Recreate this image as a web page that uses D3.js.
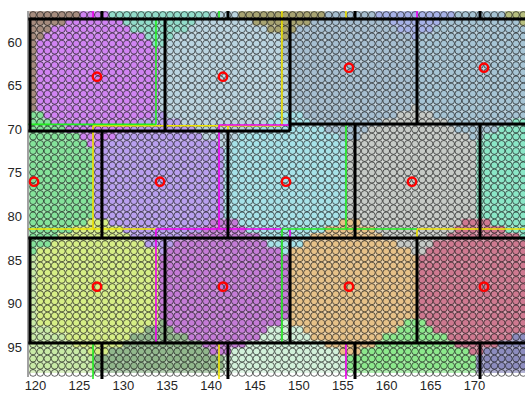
<!DOCTYPE html>
<html><head><meta charset="utf-8">
<script src="https://cdn.jsdelivr.net/npm/d3@7"></script>
<style>body{margin:0;background:#fff;} svg{display:block;font-family:"Liberation Sans",Arial,Helvetica,sans-serif;}</style>
</head><body>
<svg id="chart" width="525" height="397"></svg>
<script>
// ---------- data ----------
const xTicks = [120,125,130,135,140,145,150,155,160,165,170];
const yTicks = [60,65,70,75,80,85,90,95];

// red cluster centres
const centerX = [127.0,141.35,155.7,171.08, 119.83,134.18,148.53,162.88, 127.0,141.35,155.7,171.08];
const centerY = [63.98,63.98,62.95,62.95, 76.02,76.02,76.02,76.02, 88.06,88.06,88.06,88.06];
const centerColor = ["#d083f2","#bad4e0","#a6bed0","#a6c4d4",
                     "#84e29a","#b89fee","#a6e2e8","#c6cac6",
                     "#d6ee86","#c47bd6","#e6c188","#ce7990"];
// neighbouring clusters whose centres lie outside the view
const outerX = [120.0,134.2,148.5,162.9,177.2, 177.2, 120.0,134.2,148.5,162.9,177.2, 112.7,112.7,185.5,185.5];
const outerY = [51.5,52.5,51.5,51.5,51.5, 76.02, 100.1,100.1,100.1,100.1,100.1, 64.0,88.06,62.95,88.06];
const outerColor = ["#a68c7e","#92dcca","#a8a472","#a7b2e8","#b6be7e", "#8ae6c6",
                    "#c8eaa6","#91b78c","#d2f1da","#8ce88c","#8c8cbe", "#a68c7e","#c8eaa6","#a6c4d4","#8c8cbe"];

// sampling lattice of the scatter points
const gridX0 = 119.72, gridY0 = 56.9, gridStep = 0.821, gridCols = 70, gridRows = 51;

// black tile outlines: horizontal [y, x0, x1], vertical [x, y0, y1]
const blackH = [[57.36,119.15,176.5],[70.21,119.15,148.99],[69.40,148.99,176.5],[82.48,119.15,176.5],[94.52,119.15,176.5]];
const blackV = [
 [119.37,57.36,70.21],[119.37,82.48,94.52],
 [134.75,57.36,70.21],[134.75,82.48,94.52],
 [148.99,57.36,70.21],[148.99,82.48,94.52],
 [163.45,57.36,69.40],[163.45,82.48,94.52],
 [127.57,56.3,57.36],[127.57,70.21,82.48],[127.57,94.52,99],
 [141.92,56.3,57.36],[141.92,70.21,82.48],[141.92,94.52,99],
 [156.39,56.3,57.36],[156.39,69.40,82.48],[156.39,94.52,99],
 [170.63,56.3,57.36],[170.63,69.40,82.48],[170.63,94.52,99]
];
// coloured outlines [x0,y0,x1,y1]
const yellowSeg = [[148.07,56.3,148.07,69.6],[126.55,69.6,148.07,69.6],[126.55,69.6,126.55,81.44],
  [119.15,81.44,133.72,81.44],[141.92,69.6,141.92,82.48],[155.36,56.3,155.36,57.36],
  [163.45,81.44,176.5,81.44],[163.45,81.44,163.45,82.48],[140.9,94.52,140.9,99]];
const magentaSeg = [[126.55,56.3,126.55,57.36],[140.9,69.52,148.99,69.52],[140.9,69.52,140.9,81.44],
  [133.72,81.44,148.07,81.44],[133.72,81.44,133.72,94.52],[163.45,56.3,163.45,57.36],
  [155.36,94.52,155.36,99],[148.99,81.44,148.99,82.48]];
const greenSeg = [[133.72,57.36,133.72,69.45],[119.15,69.45,133.72,69.45],[140.9,56.3,140.9,57.36],
  [148.07,81.44,163.45,81.44],[148.07,81.44,148.07,94.52],[155.36,69.52,155.36,81.44],[126.55,94.52,126.55,99]];

// ---------- drawing ----------
const svg = d3.select("#chart");
const x = d3.scaleLinear().domain([120,170]).range([35.5,474.5]);
const y = d3.scaleLinear().domain([60,95]).range([42,347.2]);
const plotL = 28, plotR = 525, plotT = 11, plotB = 379;

svg.append("defs").append("clipPath").attr("id","clip")
  .append("rect").attr("x",plotL).attr("y",plotT).attr("width",plotR-plotL).attr("height",plotB-plotT);

const seeds = [];
centerX.forEach((v,i)=>seeds.push({x:v,y:centerY[i],c:centerColor[i]}));
outerX.forEach((v,i)=>seeds.push({x:v,y:outerY[i],c:outerColor[i]}));
const del = d3.Delaunay.from(seeds, d=>x(d.x), d=>y(d.y));

const pts = [];
d3.range(gridRows).forEach(r=>{
  d3.range(gridCols).forEach(c=>{
    const gx = gridX0 + c*gridStep, gy = gridY0 + r*gridStep;
    const s = seeds[del.find(x(gx), y(gy))];
    pts.push({gx, gy, r, c:s.c});
  });
});

const g = svg.append("g").attr("clip-path","url(#clip)");
const wx = x(gridStep)-x(0), wy = y(gridStep)-y(0);
g.append("g").selectAll("rect").data(pts).join("rect")
  .attr("x", d=>x(d.gx)-wx/2-0.3).attr("y", d=>y(d.gy)-wy/2-0.3)
  .attr("width", wx+0.6).attr("height", d=> d.r===gridRows-1 ? wy/2+0.3 : wy+0.6)
  .attr("fill", d=>d3.interpolateRgb(d.c,"#ffffff")(0.3));
g.append("g").selectAll("circle").data(pts).join("circle")
  .attr("cx", d=>x(d.gx)).attr("cy", d=>y(d.gy)).attr("r",3.4)
  .attr("fill", d=> d.r===gridRows-1 ? "none" : d.c)
  .attr("stroke","#111").attr("stroke-opacity",0.7).attr("stroke-width",0.9);

function segs(data,color,w){
  g.append("g").selectAll("line").data(data).join("line")
   .attr("x1",d=>x(d[0])).attr("y1",d=>y(d[1])).attr("x2",d=>x(d[2])).attr("y2",d=>y(d[3]))
   .attr("stroke",color).attr("stroke-width",w);
}
segs(yellowSeg,"#f0e400",1.6);
segs(magentaSeg,"#f000f0",1.6);
segs(greenSeg,"#22ee22",1.6);
segs(blackH.map(d=>[d[1],d[0],d[2],d[0]]),"#000",3);
segs(blackV.map(d=>[d[0],d[1],d[0],d[2]]),"#000",3);

g.append("g").selectAll("circle").data(centerX.map((v,i)=>({x:v,y:centerY[i]}))).join("circle")
  .attr("cx",d=>x(d.x)).attr("cy",d=>y(d.y)).attr("r",4.2)
  .attr("fill","none").attr("stroke","#ff0000").attr("stroke-width",2.4);

// axes
svg.append("line").attr("x1",plotL).attr("x2",plotL).attr("y1",plotT).attr("y2",plotB-2)
  .attr("stroke","#444").attr("stroke-width",1);
svg.append("g").selectAll("text").data(yTicks).join("text")
  .attr("x",22).attr("y",d=>y(d)).attr("dy","0.35em").attr("text-anchor","end")
  .attr("font-size",13).attr("fill","#262626").text(d=>d);
svg.append("g").selectAll("text").data(xTicks).join("text")
  .attr("x",d=>x(d)).attr("y",390).attr("text-anchor","middle")
  .attr("font-size",13).attr("fill","#262626").text(d=>d);
</script>
</body></html>
